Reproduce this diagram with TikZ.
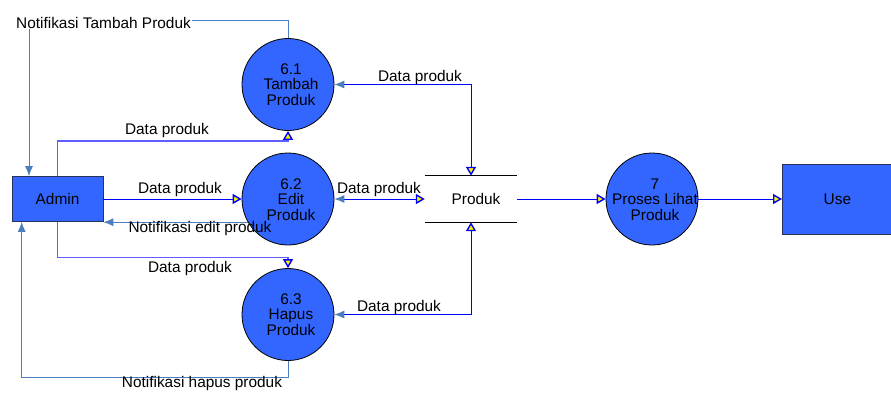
\documentclass[tikz,border=0pt]{standalone}
\usepackage{fontspec}
\setmainfont{Liberation Sans}
\usetikzlibrary{arrows.meta}
\definecolor{procfill}{RGB}{51,102,255}
\definecolor{flowblue}{RGB}{0,0,255}
\definecolor{lightflow}{RGB}{95,95,255}
\definecolor{notif}{RGB}{74,126,190}
\definecolor{ent}{RGB}{40,50,90}
\begin{document}
\begin{tikzpicture}[x=1pt,y=-1pt,
  every node/.style={font=\fontsize{15.4}{15.5}\selectfont, text=black},
  proc/.style={circle, draw=black, line width=0.8pt, fill=procfill, minimum size=92pt, inner sep=0pt},
  ext/.style={rectangle, draw=ent, line width=0.8pt, fill=procfill, inner sep=0pt},
  store/.style={rectangle, minimum width=92pt, minimum height=46pt, inner sep=0pt},
  ptext/.style={align=center, inner sep=0pt},
  lbl/.style={inner sep=1pt},
  flow/.style={draw=flowblue, line width=0.9pt},
  flowb/.style={draw=lightflow, line width=1.3pt},
  nline/.style={draw=notif, line width=0.9pt},
  yt/.tip={Triangle[length=9pt,width=10pt,line width=1.4pt,fill=yellow,color=flowblue]},
  sb/.tip={Latex[length=10pt,width=8pt,color=notif]}
]
\useasboundingbox (0,0) rectangle (891,392);
\fill[white] (0,0) rectangle (891,392);

% entities
\node[ext, minimum width=91pt, minimum height=45pt] (adm) at (57.5,199) {Admin};
\node[ext, minimum width=110pt, minimum height=70pt, anchor=west] (use) at (782,199) {Use};

% processes
\node[proc] (e61) at (288,84.5) {};
\node[proc] (e62) at (288,199) {};
\node[proc] (e63) at (288,314.5) {};
\node[proc] (e7) at (652,199) {};
\node[ptext] (t61) at (291,84.5) {6.1\\Tambah\\Produk};
\node[ptext] (t62) at (291,199.5) {6.2\\Edit\\Produk};
\node[ptext] (t63) at (291,314.5) {6.3\\Hapus\\Produk};
\node[ptext] (t7) at (655,199.5) {7\\Proses Lihat\\Produk};

% data store
\node[store] (st) at (471,199) {};
\node[inner sep=0pt] (tst) at (476,199) {Produk};
\draw[black, line width=0.8pt] (st.north west) -- (st.north east) (st.south west) -- (st.south east);

% connectors
\coordinate (k1) at (0,141);
\coordinate (k2) at (29,20.7);
\coordinate (k3) at (0,257.7);
\coordinate (k4) at (21.7,377.7);

\draw[flow, -{yt}] (adm.east) -- (e62.west);
\draw[nline, -{sb}] (e62.210) -- (e62.210 -| adm.east);
\draw[flowb, -{yt}] (adm.north) |- (k1 -| e61.south) -- (e61.south);
\draw[nline, -{sb}] (e61.north) |- (k2) -- (k2 |- adm.north);
\draw[flowb, -{yt}] (adm.south) |- (k3 -| e63.north) -- (e63.north);
\draw[nline, -{sb}] (e63.south) |- (k4) -- (k4 |- adm.south);
\draw[flow, {yt}-{sb}] (st.north) |- (e61.east);
\draw[flow, {sb}-{yt}] (e62.east) -- (st.west);
\draw[flow, {yt}-{sb}] (st.south) |- (e63.east);
\draw[flow, -{yt}] (st.east) -- (e7.west);
\draw[flow, -{yt}] (e7.east) -- (use.west);

% labels
\node[lbl, fill=white] (l1) at (103.5,22.5) {Notifikasi Tambah Produk};
\node[lbl] (l2) at (167,131) {Data produk};
\node[lbl] (l3) at (420,77.5) {Data produk};
\node[lbl] (l4) at (180,190) {Data produk};
\node[lbl] (l5) at (379,190) {Data produk};
\node[lbl] (l6) at (200,229) {Notifikasi edit produk};
\node[lbl] (l7) at (190,269) {Data produk};
\node[lbl] (l8) at (399,308) {Data produk};
\node[lbl] (l9) at (202,384) {Notifikasi hapus produk};
\end{tikzpicture}
\end{document}
